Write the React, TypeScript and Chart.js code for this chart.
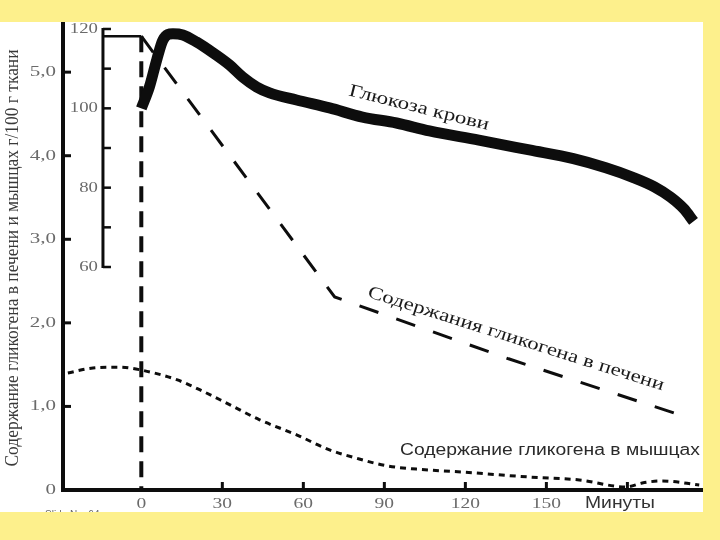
import React, { useEffect, useRef } from 'react';
import { Chart, registerables } from 'chart.js';

Chart.register(...registerables);

// ---- data (minutes after start) ----
const glucoseMinutes = [0, 3, 5.7, 8, 11.7, 15.4, 20.5, 26.5, 32.7, 37.5, 42.7, 47.5, 57.5, 69.7, 81.9, 94.5, 106.7, 125, 143.7, 160, 172, 182, 190, 196, 201, 204.5];
const glucoseMg = [100, 105.4, 112.2, 117.2, 118.8, 118.5, 116.7, 114, 110.9, 107.9, 105.4, 103.9, 102.1, 100.1, 97.8, 96.3, 94.3, 92, 89.5, 87.3, 85, 82.6, 80.2, 77.6, 74.6, 71.5];

const liverMinutes = [0, 71.6, 136, 202.2];
const liverValues = [5.43, 2.31, 1.57, 0.87];

const muscleMinutes = [-27.2, -17.9, -8, 0, 13.1, 21.6, 31.6, 43.8, 57.5, 69.7, 79.7, 90.8, 101.9, 118.9, 143.7, 162.2, 179.6, 185.5, 192.9, 206.6];
const muscleValues = [1.4, 1.46, 1.47, 1.435, 1.32, 1.2, 1.04, 0.84, 0.66, 0.48, 0.38, 0.29, 0.25, 0.215, 0.155, 0.12, 0.036, 0.084, 0.108, 0.06];

const yTickValues = [0, 1, 2, 3, 4, 5];
const yTickLabels = ['0', '1,0', '2,0', '3,0', '4,0', '5,0'];
const xTickValues = [0, 30, 60, 90, 120, 150];
const xTickLabels = ['0', '30', '60', '90', '120', '150'];
const xTickMarks = [30, 60, 90, 120, 150, 180];
const innerTickValues = [60, 70, 80, 90, 100, 110, 120];
const innerLabelValues = [60, 80, 100, 120];
const innerAxisMinute = -14.2;

const yTitle = 'Содержание гликогена в печени и мышцах г/100 г ткани';
const glucoseLabel = 'Глюкоза крови';
const liverLabel = 'Содержания гликогена в печени';
const muscleLabel = 'Содержание гликогена в мышцах';
const xUnit = 'Минуты';

const YELLOW = '#fdf08c';
const INK = '#0d0d0d';
const SERIF = '"Liberation Serif", "DejaVu Serif", serif';
const SANS = '"Liberation Sans", Arial, sans-serif';

function drawText(
  ctx: CanvasRenderingContext2D,
  text: string,
  x: number,
  y: number,
  o: { font: string; color: string; align?: CanvasTextAlign; angle?: number; width?: number; sx?: number }
) {
  ctx.save();
  ctx.translate(x, y);
  ctx.rotate(o.angle || 0);
  ctx.font = o.font;
  let k = o.sx || 1;
  if (o.width) k = o.width / ctx.measureText(text).width;
  ctx.scale(k, 1);
  ctx.textAlign = o.align || 'center';
  ctx.textBaseline = 'middle';
  ctx.fillStyle = o.color;
  ctx.fillText(text, 0, 0);
  ctx.restore();
}

const decor = {
  id: 'decor',
  beforeDraw(chart: any) {
    const ctx: CanvasRenderingContext2D = chart.ctx;
    ctx.save();
    ctx.fillStyle = YELLOW;
    ctx.fillRect(0, 0, 720, 540);
    ctx.fillStyle = '#ffffff';
    ctx.fillRect(0, 22, 703, 490);
    ctx.beginPath();
    ctx.rect(0, 22, 703, 490);
    ctx.clip();
    ctx.fillStyle = '#666';
    ctx.font = '10px ' + SANS;
    ctx.textBaseline = 'alphabetic';
    ctx.fillText('Slide No. 64', 45, 518);
    ctx.restore();
  },
  beforeDatasetsDraw(chart: any) {
    const ctx: CanvasRenderingContext2D = chart.ctx;
    const x = chart.scales.x;
    const y = chart.scales.y;
    const y2 = chart.scales.y2;
    const bottom = chart.chartArea.bottom;
    const x0 = x.getPixelForValue(0);
    const topY = y.getPixelForValue(liverValues[0]);
    ctx.save();
    // vertical dashed line at 0 min
    ctx.strokeStyle = INK;
    ctx.lineWidth = 4;
    ctx.setLineDash([16, 9]);
    ctx.beginPath();
    ctx.moveTo(x0, topY);
    ctx.lineTo(x0, bottom);
    ctx.stroke();
    ctx.setLineDash([]);
    // inner mg% axis
    const ix = x.getPixelForValue(innerAxisMinute);
    ctx.lineWidth = 3;
    ctx.beginPath();
    ctx.moveTo(ix, y2.getPixelForValue(120) - 1);
    ctx.lineTo(ix, y2.getPixelForValue(60) + 1);
    ctx.stroke();
    ctx.lineWidth = 2.5;
    innerTickValues.forEach((v) => {
      const py = y2.getPixelForValue(v);
      ctx.beginPath();
      ctx.moveTo(ix, py);
      ctx.lineTo(ix + 8, py);
      ctx.stroke();
    });
    // bracket top line
    ctx.lineWidth = 2.5;
    ctx.beginPath();
    ctx.moveTo(ix, topY);
    ctx.lineTo(x0, topY);
    ctx.stroke();
    innerLabelValues.forEach((v) => {
      drawText(ctx, String(v), ix - 5, y2.getPixelForValue(v), { font: '15px ' + SERIF, color: '#6a6a6a', align: 'right', sx: 1.25 });
    });
    ctx.restore();
  },
  afterDatasetsDraw(chart: any) {
    const ctx: CanvasRenderingContext2D = chart.ctx;
    const x = chart.scales.x;
    const y = chart.scales.y;
    const { left, right, top, bottom } = chart.chartArea;
    ctx.save();
    ctx.strokeStyle = INK;
    ctx.lineCap = 'butt';
    // main axes
    ctx.lineWidth = 4;
    ctx.beginPath();
    ctx.moveTo(left, top);
    ctx.lineTo(left, bottom + 2);
    ctx.moveTo(left - 2, bottom);
    ctx.lineTo(right, bottom);
    ctx.stroke();
    ctx.lineWidth = 3;
    yTickValues.forEach((v) => {
      if (v === 0) return;
      const py = y.getPixelForValue(v);
      ctx.beginPath();
      ctx.moveTo(left, py);
      ctx.lineTo(left + 8, py);
      ctx.stroke();
    });
    xTickMarks.forEach((v) => {
      const px = x.getPixelForValue(v);
      ctx.beginPath();
      ctx.moveTo(px, bottom);
      ctx.lineTo(px, bottom - 8);
      ctx.stroke();
    });
    // tick labels
    yTickValues.forEach((v, i) => {
      drawText(ctx, yTickLabels[i], left - 7, y.getPixelForValue(v), { font: '15px ' + SERIF, color: '#6a6a6a', align: 'right', sx: 1.4 });
    });
    xTickValues.forEach((v, i) => {
      drawText(ctx, xTickLabels[i], x.getPixelForValue(v), bottom + 14, { font: '15px ' + SERIF, color: '#6a6a6a', align: 'center', sx: 1.3 });
    });
    drawText(ctx, xUnit, 620, 504, { font: '16px ' + SANS, color: '#333', width: 70 });
    // axis title
    drawText(ctx, yTitle, 13, 258, { font: '18px ' + SERIF, color: '#3a3a3a', angle: -Math.PI / 2, width: 417 });
    // series labels
    drawText(ctx, glucoseLabel, 419, 108, { font: '18px ' + SERIF, color: '#1a1a1a', angle: (14 * Math.PI) / 180, width: 144 });
    drawText(ctx, liverLabel, 516, 339, { font: '18px ' + SERIF, color: '#1a1a1a', angle: (17.6 * Math.PI) / 180, width: 310 });
    drawText(ctx, muscleLabel, 550, 451, { font: '16px ' + SANS, color: '#2a2a2a', width: 300 });
    ctx.restore();
  },
};

export default function App() {
  const ref = useRef<HTMLCanvasElement | null>(null);
  useEffect(() => {
    if (!ref.current) return;
    const chart = new Chart(ref.current, {
      type: 'line',
      data: {
        datasets: [
          {
            label: glucoseLabel,
            data: glucoseMinutes.map((m, i) => ({ x: m, y: glucoseMg[i] })),
            yAxisID: 'y2',
            borderColor: INK,
            borderWidth: 11,
            pointRadius: 0,
            cubicInterpolationMode: 'monotone',
            borderCapStyle: 'butt',
            borderJoinStyle: 'round',
            fill: false,
          },
          {
            label: liverLabel,
            data: liverMinutes.map((m, i) => ({ x: m, y: liverValues[i] })),
            yAxisID: 'y',
            borderColor: INK,
            borderWidth: 3,
            borderDash: [20, 19],
            pointRadius: 0,
            tension: 0,
            fill: false,
          },
          {
            label: muscleLabel,
            data: muscleMinutes.map((m, i) => ({ x: m, y: muscleValues[i] })),
            yAxisID: 'y',
            borderColor: INK,
            borderWidth: 3,
            borderDash: [6, 5],
            pointRadius: 0,
            cubicInterpolationMode: 'monotone',
            fill: false,
          },
        ],
      },
      options: {
        animation: false,
        responsive: false,
        devicePixelRatio: 1,
        events: [],
        layout: { padding: { left: 63, top: 22, right: 17, bottom: 50 } },
        plugins: { legend: { display: false }, tooltip: { enabled: false } },
        scales: {
          x: { type: 'linear', min: -29, max: 208, display: false },
          y: { type: 'linear', min: 0, max: 5.6, display: false },
          y2: { type: 'linear', min: 3.79, max: 121.76, display: false },
        },
      },
      plugins: [decor],
    } as any);
    return () => chart.destroy();
  }, []);
  return (
    <div style={{ position: 'fixed', left: 0, top: 0, width: 720, height: 540, background: YELLOW }}>
      <canvas ref={ref} width={720} height={540} style={{ display: 'block', width: 720, height: 540 }} />
    </div>
  );
}
